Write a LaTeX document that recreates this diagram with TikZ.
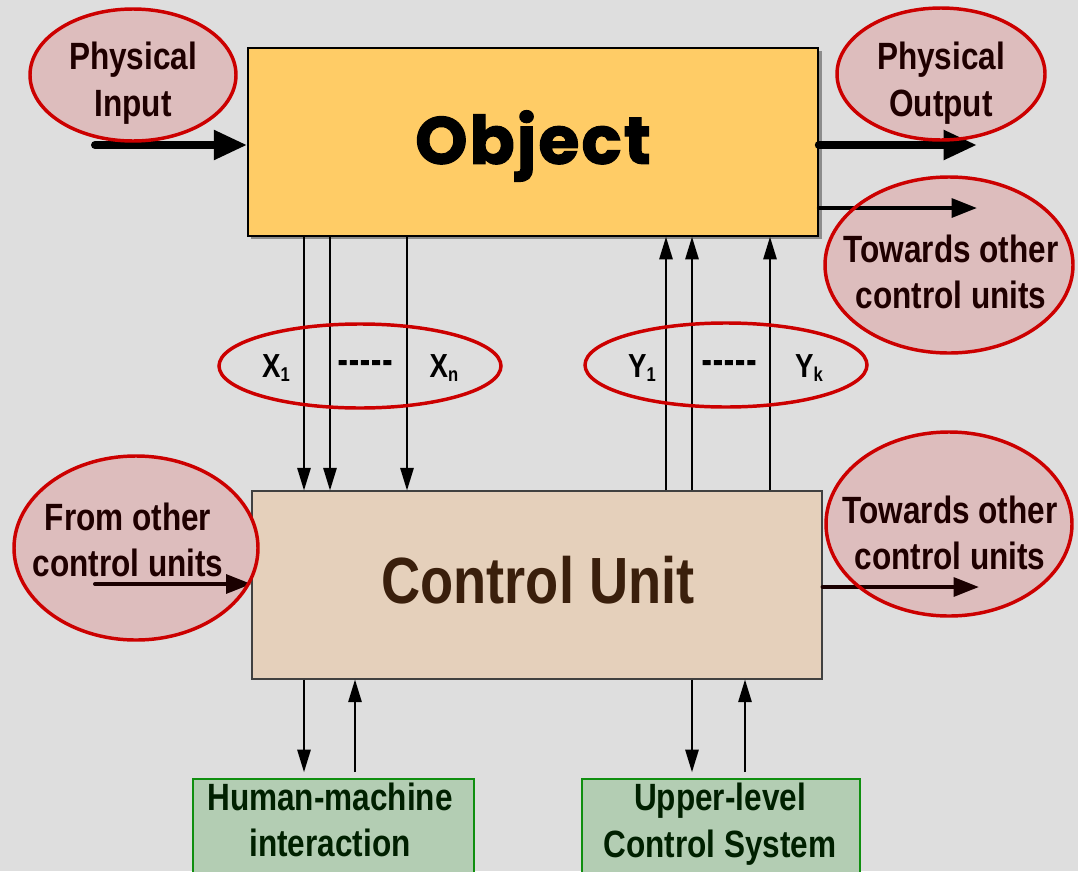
\documentclass[tikz,border=0pt]{standalone}
\usepackage{fontspec}
\usetikzlibrary{shapes.geometric,arrows.meta}
\newfontfamily\nf{Liberation Sans}[FakeStretch=0.83]
\newfontfamily\dashf{Liberation Sans}[FakeStretch=0.83,LetterSpace=6,FakeBold=3]
\newfontfamily\objf{Poppins}[FakeBold=1.6,LetterSpace=3]
\definecolor{bgc}{HTML}{DEDEDE}
\definecolor{objfill}{HTML}{FFCC66}
\definecolor{ctrlfill}{HTML}{E5D0BB}
\definecolor{ellfill}{HTML}{DDBDBD}
\definecolor{ellred}{HTML}{CC0000}
\definecolor{grfill}{HTML}{B3CDB3}
\definecolor{grline}{HTML}{108F10}
\definecolor{elltext}{HTML}{1F0000}
\definecolor{cutext}{HTML}{3A1F0C}
\definecolor{grtext}{HTML}{002000}
\definecolor{brarrow}{HTML}{1A0000}
\begin{document}
\begin{tikzpicture}[x=0.75pt,y=-0.75pt,
  objbox/.style={rectangle,draw=black,line width=1.2pt,fill=objfill,inner sep=0pt,minimum width=427.5pt,minimum height=141pt},
  ctrlbox/.style={rectangle,draw=black!75,line width=0.8pt,fill=ctrlfill,inner sep=0pt,minimum width=427.5pt,minimum height=141pt},
  grbox/.style={rectangle,draw=grline,line width=1.2pt,fill=grfill,inner sep=0pt,minimum height=90.75pt},
  ellbg/.style={ellipse,fill=ellfill,inner sep=0pt},
  ellline/.style={draw=ellred,line width=2.6pt},
  elltxt/.style={text=elltext,align=center,inner sep=0pt,font=\nf\bfseries\fontsize{28.5}{35}\selectfont},
  grtxt/.style={text=grtext,align=center,inner sep=0pt,font=\nf\bfseries\fontsize{28.5}{35}\selectfont},
  sigtxt/.style={text=black,inner sep=0pt,font=\nf\bfseries\fontsize{25}{30}\selectfont},
  dashtxt/.style={text=black,inner sep=0pt,font=\dashf\bfseries\fontsize{25}{30}\selectfont},
  thickarrow/.style={line width=6pt,line cap=round,-{Triangle[length=25pt,width=21pt]}},
  medarrow/.style={draw=brarrow,line width=3pt,line cap=round,-{Triangle[length=19pt,width=14pt]}},
  sig/.style={line width=1.5pt,-{Triangle[length=17pt,width=10pt]}}
]
\useasboundingbox (0,0) rectangle (1078,871);
\fill[bgc] (0,0) rectangle (1078,871);
\clip (0,0) rectangle (1078,871);

% object with shadow
\fill[black!45] (251,51) rectangle (822,239);
\node[objbox] (obj) at (533,142) {};
\node[inner sep=0pt,font=\objf\bfseries\fontsize{50}{60}\selectfont] (objt) at (533,146) {Object};

% control unit
\node[ctrlbox] (ctrl) at (537,585) {};
\node[inner sep=0pt,text=cutext,font=\nf\bfseries\fontsize{49}{58}\selectfont] (ctrlt) at (538,580) {Control Unit};

% green boxes
\node[grbox,minimum width=210.75pt] (hmi) at (333.5,839.5) {};
\node[grbox,minimum width=208.5pt] (ucs) at (721,839.5) {};

% ellipse fills
\node[ellbg,minimum width=154.5pt,minimum height=99pt] (pin) at (133,75) {};
\node[ellbg,minimum width=156pt,minimum height=99pt] (pout) at (941,74) {};
\node[ellbg,minimum width=186pt,minimum height=132pt] (tow1) at (949,265) {};
\node[ellbg,minimum width=184.5pt,minimum height=138pt] (tow2) at (949,524) {};
\node[ellbg,minimum width=183pt,minimum height=138pt] (from) at (136,548) {};

% arrows
\coordinate (pinS) at (95,145);
\draw[thickarrow] (pinS) -- (pinS -| obj.west);
\coordinate (poutE) at (977,145);
\draw[thickarrow] (poutE -| obj.east) -- (poutE);
\coordinate (tow1E) at (977,208);
\draw[medarrow,draw=black] (tow1E -| obj.east) -- (tow1E);
\coordinate (fromS) at (95,584);
\draw[medarrow] (fromS) -- (fromS -| ctrl.west);
\coordinate (tow2E) at (979,587);
\draw[medarrow] (tow2E -| ctrl.east) -- (tow2E);

% signal lines
\foreach \xx in {304,330,407} {
  \draw[sig] (\xx,0 |- obj.south) -- (\xx,0 |- ctrl.north);
}
\foreach \xx in {666,692,770} {
  \draw[sig] (\xx,0 |- ctrl.north) -- (\xx,0 |- obj.south);
}
\draw[sig,shorten >=4.5pt] (304,0 |- ctrl.south) -- (304,0 |- hmi.north);
\draw[sig,shorten <=4.5pt] (355,0 |- hmi.north) -- (355,0 |- ctrl.south);
\draw[sig,shorten >=4.5pt] (692,0 |- ctrl.south) -- (692,0 |- ucs.north);
\draw[sig,shorten <=4.5pt] (745,0 |- ucs.north) -- (745,0 |- ctrl.south);

% ellipse outlines
\draw[ellline] (pin.center) ellipse [x radius=103,y radius=66];
\draw[ellline] (pout.center) ellipse [x radius=104,y radius=66];
\draw[ellline] (tow1.center) ellipse [x radius=124,y radius=88];
\draw[ellline] (tow2.center) ellipse [x radius=123,y radius=92];
\draw[ellline] (from.center) ellipse [x radius=122,y radius=92];
\coordinate (xe) at (360,366);
\coordinate (ye) at (726,365);
\draw[ellline] (xe) ellipse [x radius=141,y radius=42];
\draw[ellline] (ye) ellipse [x radius=141,y radius=42];

% texts
\node[elltxt] (pint) at (133,83) {Physical\\Input};
\node[elltxt] (poutt) at (941,83) {Physical\\Output};
\node[elltxt] (tow1t) at (951,272) {Towards other\\control units};
\node[elltxt] (tow2t) at (950,533) {Towards other\\control units};
\node[elltxt] (fromt) at (128,540) {From other\\control units};
\node[grtxt] (hmit) at (330,820) {Human-machine\\interaction};
\node[grtxt] (ucst) at (720,824) {Upper-level\\Control System};

\node[sigtxt] (x1) at (276,368) {X\raisebox{-2.3pt}{\fontsize{15}{18}\selectfont 1}};
\node[dashtxt] (xd) at (365,366) {-----};
\node[sigtxt] (xn) at (444,368) {X\raisebox{-2.3pt}{\fontsize{15}{18}\selectfont n}};
\node[sigtxt] (y1) at (642,368) {Y\raisebox{-2.3pt}{\fontsize{15}{18}\selectfont 1}};
\node[dashtxt] (yd) at (729,366) {-----};
\node[sigtxt] (yk) at (809,368) {Y\raisebox{-2.3pt}{\fontsize{15}{18}\selectfont k}};
\end{tikzpicture}
\end{document}
